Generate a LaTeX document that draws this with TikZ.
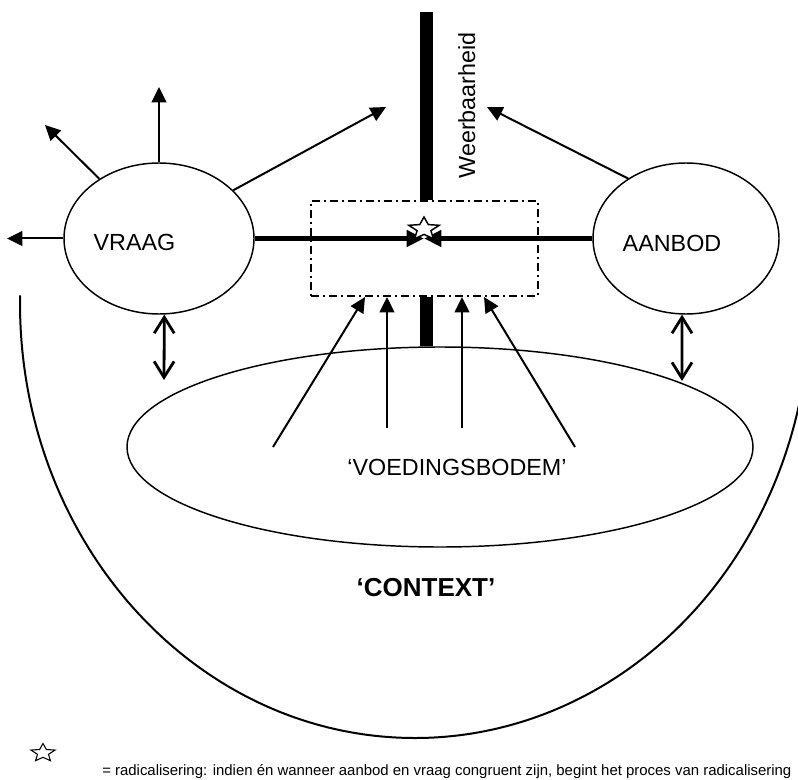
\documentclass[tikz,border=0pt]{standalone}
\usepackage{fontspec}
\setmainfont{Liberation Sans}
\usetikzlibrary{shapes.geometric,arrows.meta}

\begin{document}
\begin{tikzpicture}[x=0.75pt,y=-0.75pt,
    blob/.style = {ellipse,draw=black,line width=1.1pt,inner sep=0pt},
    lbl/.style = {font=\fontsize{17.5}{21}\selectfont,inner sep=0pt},
    arr/.style = {line width=1.5pt,-{Triangle[length=11.5pt,width=11pt]}},
    bold/.style = {line width=3.75pt,-{Triangle[length=13pt,width=12pt]}},
    dbl/.style = {line width=2.1pt,{Straight Barb[length=12pt,width=15pt]}-{Straight Barb[length=12pt,width=15pt]}},
    bar/.style = {line width=9.5pt},
    kernbox/.style = {rectangle,draw=black,line width=1.1pt,
        dash pattern=on 6pt off 3pt on 1.5pt off 3pt,
        minimum width=170.25pt,minimum height=71.25pt,inner sep=0pt},
    ster/.style = {star,star points=5,star point ratio=2.2,draw=black,
        fill=white,inner sep=0pt,transform shape,yscale=0.75}]
  \useasboundingbox (0,0) rectangle (798,780);
  \clip (0,0) rectangle (798,780);
  \draw[line width=1.5pt] (415,303) ++(181:395 and 435)
      arc[start angle=181,end angle=-1,x radius=395,y radius=435];
  \node[blob,minimum width=142.5pt,minimum height=113.25pt] (vraag) at (159,238.5) {};
  \node[lbl] (vraagtxt) at (134.5,242) {VRAAG};
  \node[blob,minimum width=139.5pt,minimum height=113.25pt] (aanbod) at (686,238.5) {};
  \node[lbl] (aanbodtxt) at (672,243) {AANBOD};
  \node[blob,minimum width=469.5pt,minimum height=150pt] (bodem) at (440,447) {};
  \node[lbl] (bodemtxt) at (457,467) {‘VOEDINGSBODEM’};
  \node[kernbox] (kern) at (424.5,248.5) {};
  \node[lbl,font=\bfseries\fontsize{19.5}{23}\selectfont] (context) at (426,588) {‘CONTEXT’};
  \coordinate (wtop) at (426.3,12);
  \draw[bar] (wtop) -- (wtop |- kern.north);
  \draw[bar] (wtop |- kern.south) -- (wtop |- bodem.north);
  \node[lbl,rotate=90,anchor=base east] (weer) at (475,32) {Weerbaarheid};
  \coordinate (vl) at (7,238.5);
  \coordinate (vul) at (45,125);
  \coordinate (vu) at (159,87);
  \coordinate (vur) at (386,107);
  \coordinate (aul) at (487,107);
  \draw[arr] (vraag.180) -- (vl);
  \draw[arr] (vraag.135) -- (vul);
  \draw[arr] (vraag.90) -- (vu);
  \draw[arr] (vraag.33) -- (vur);
  \draw[arr] (aanbod.134) -- (aul);
  \coordinate (meet) at (424,238.5);
  \draw[bold] (vraag) -- (meet);
  \draw[bold] (aanbod) -- (meet);
  \node[ster,line width=1.1pt,minimum size=24pt] (midster) at (424,229) {};
  \coordinate (vb) at (164,380);
  \coordinate (ab) at (682,381);
  \draw[dbl] (vraag.-86) -- (vb);
  \draw[dbl] (aanbod.-93) -- (ab);
  \coordinate (f1) at (273,447); \coordinate (t1) at (365,297);
  \coordinate (f2) at (387,428); \coordinate (t2) at (387,297);
  \coordinate (f3) at (462,428); \coordinate (t3) at (462,297);
  \coordinate (f4) at (575,447); \coordinate (t4) at (484,297);
  \foreach \i in {1,...,4} \draw[arr] (f\i) -- (t\i);
  \node[ster,line width=0.8pt,minimum size=19pt] (legster) at (43,753) {};
  \node[font=\fontsize{11.2}{13}\selectfont,anchor=base west,inner sep=0pt] (legtxt) at (102,775)
      {= radicalisering: indien én wanneer aanbod en vraag congruent zijn, begint het proces van radicalisering};
\end{tikzpicture}
\end{document}
